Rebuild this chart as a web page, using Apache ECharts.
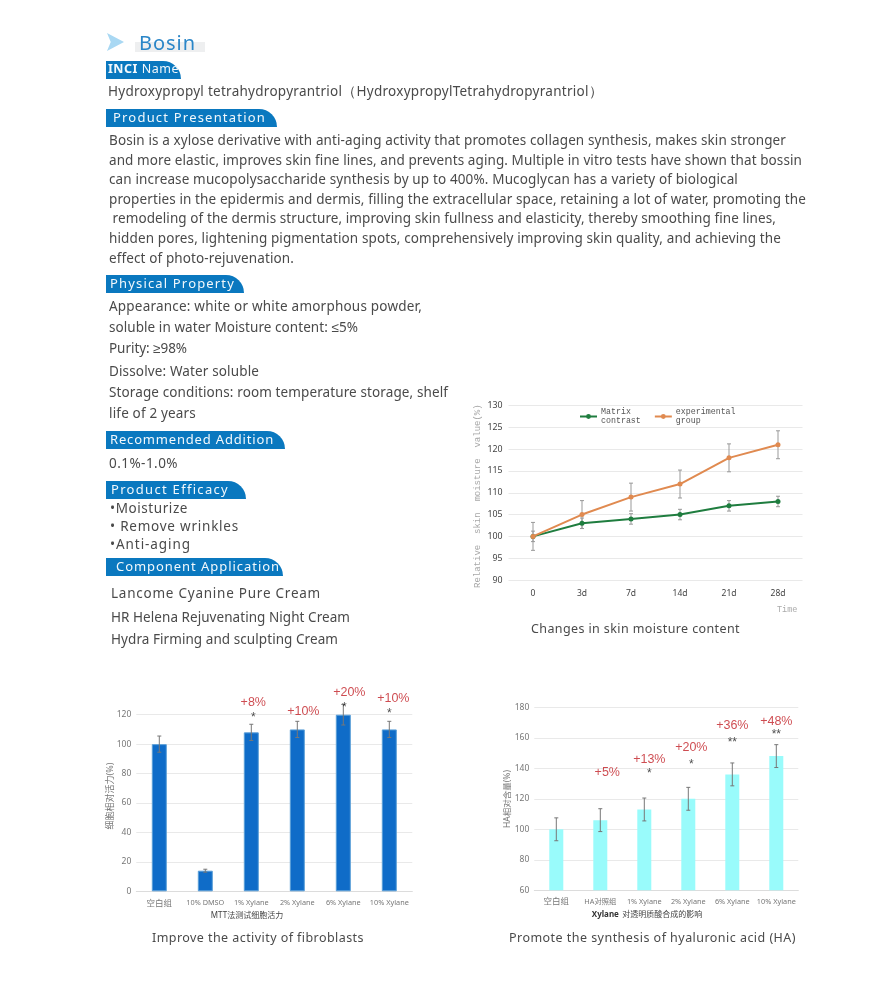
<!DOCTYPE html>
<html><head><meta charset="utf-8">
<style>
html,body{margin:0;padding:0;background:#fff;width:885px;height:989px;overflow:hidden}
#chart{position:absolute;left:0;top:0;width:885px;height:989px}
.t{position:absolute;white-space:pre;font-family:"Noto Sans",sans-serif;color:#4a4a4a;line-height:1;transform:translateY(-50%)}
.ban{position:absolute;background:#0a78bf;height:18px;left:106px;border-top-right-radius:18px 18px;border-top-left-radius:0}
.bt{color:#f2f8fc;font-size:13px}
#arrow{position:absolute;left:107px;top:33px;width:17px;height:18px;background:#a9d8f3;clip-path:polygon(0 0,100% 50%,0 100%,22% 50%)}
#bosbg{position:absolute;left:135px;top:42px;width:70px;height:10px;background:#eeeff0}
</style>
<script src="https://cdn.jsdelivr.net/npm/echarts@6/dist/echarts.min.js"></script>
</head><body>
<div id="chart"></div>
<div id="arrow"></div><div id="bosbg"></div>
<div id="page"></div>
<script>
// ---- moisture chart ----
const timeLabels = ['0','3d','7d','14d','21d','28d'];
const matrixValues = [100,103,104,105,107,108];
const matrixErr = [1.2,1.2,1.2,1.2,1.2,1.2];
const experimentalValues = [100,105,109,112,118,121];
const experimentalErr = [3.2,3.2,3.2,3.2,3.2,3.2];
// ---- fibroblast chart ----
const mttLabels = ['空白组','10% DMSO','1% Xylane','2% Xylane','6% Xylane','10% Xylane'];
const mttValues = [100,14,108,110,120,110];
const mttErr = [5.5,1,5.5,5.5,7,5.5];
const mttPct = ['','','+8%','+10%','+20%','+10%'];
const mttPctY = [null,null,128,122,135,131];
const mttStar = ['','','*','','*','*'];
const mttStarY = [null,null,118,null,124.5,121];
// ---- hyaluronic acid chart ----
const haLabels = ['空白组','HA对照组','1% Xylane','2% Xylane','6% Xylane','10% Xylane'];
const haValues = [100,106,113,120,136,148];
const haErr = [7.5,7.5,7.5,7.5,7.5,7.5];
const haPct = ['','+5%','+13%','+20%','+36%','+48%'];
const haPctY = [null,137,146,153.8,168,170.5];
const haStar = ['','','*','*','**','**'];
const haStarY = [null,null,136.5,142.5,156.5,162];

const SERIF='"Liberation Mono",monospace', SANS='"Noto Sans","Noto Sans CJK SC",sans-serif', ARIAL='"Liberation Sans",sans-serif';

function errSeries(name,vals,errs,xI,color,z,cap){
  return {type:'custom',name:name,xAxisIndex:xI,yAxisIndex:xI,z:z,clip:false,silent:true,legendHoverLink:false,
    data:vals.map((v,i)=>[i,v-errs[i],v+errs[i]]),
    encode:{x:0,y:[1,2]},
    renderItem:(p,api)=>{
      const a=api.coord([api.value(0),api.value(1)]),b=api.coord([api.value(0),api.value(2)]);
      const st={stroke:color,lineWidth:1,fill:null};
      return {type:'group',children:[
        {type:'line',shape:{x1:a[0],y1:a[1],x2:b[0],y2:b[1]},style:st},
        {type:'line',shape:{x1:a[0]-cap,y1:a[1],x2:a[0]+cap,y2:a[1]},style:st},
        {type:'line',shape:{x1:b[0]-cap,y1:b[1],x2:b[0]+cap,y2:b[1]},style:st}]};
    }};
}
function noteSeries(xI,ys,texts,offs,dy,font,size,color){
  return {type:'scatter',xAxisIndex:xI,yAxisIndex:xI,symbolSize:0,z:10,clip:false,silent:true,
    data:ys.map((y,i)=>y==null?null:{value:[i,y],label:{formatter:texts[i],offset:[offs[i],dy]}}).filter(d=>d),
    label:{show:true,position:'inside',fontFamily:font,fontSize:size,color:color}};
}
function catAxis(grid,data,size,color,margin){
  return {type:'category',gridIndex:grid,data:data,boundaryGap:true,
    axisTick:{show:false},axisLine:{show:true,lineStyle:{color:'#dcdcdc'}},
    axisLabel:{interval:0,fontFamily:SANS,fontSize:size,color:color,margin:margin,
      formatter:v=>/^[\u4e00-\u9fff]+$/.test(v)?'{c|'+v+'}':v,rich:{c:{fontSize:8.5,fontFamily:SANS,color:color}}}};
}
function valAxis(grid,min,max,step,color,size,margin){
  return {type:'value',gridIndex:grid,min:min,max:max,interval:step,
    axisLine:{show:false},axisTick:{show:false},
    splitLine:{lineStyle:{color:'#e9e9e9'}},
    axisLabel:{fontFamily:SANS,fontSize:size,color:color,margin:margin}};
}
const chart=echarts.init(document.getElementById('chart'),null,{renderer:'canvas'});
chart.setOption({
  animation:false,
  backgroundColor:'transparent',
  grid:[
    {left:508.5,top:405.5,width:294,height:174.5},
    {left:136.3,top:714.7,width:276,height:176.6},
    {left:534.3,top:707.3,width:264,height:183}
  ],
  legend:{left:574,top:402,itemWidth:17,itemHeight:6,itemGap:13,data:['Matrix\ncontrast','experimental\ngroup'],
    textStyle:{fontFamily:SERIF,fontSize:8.3,lineHeight:9.5,color:'#555',padding:[0,0,0,-1]}},
  xAxis:[
    Object.assign(catAxis(0,timeLabels,8.5,'#444',9),{axisLine:{show:false}}),
    catAxis(1,mttLabels,7.3,'#777',8),
    catAxis(2,haLabels,7.3,'#777',7.5)
  ],
  yAxis:[valAxis(0,90,130,5,'#444',8.8,6),valAxis(1,0,120,20,'#777',8.5,5),valAxis(2,60,180,20,'#777',8.5,5)],
  series:[
    {type:'line',name:'Matrix\ncontrast',data:matrixValues,xAxisIndex:0,yAxisIndex:0,z:4,symbol:'circle',symbolSize:5,
      lineStyle:{color:'#1f7d3f',width:2},itemStyle:{color:'#1f7d3f'}},
    {type:'line',name:'experimental\ngroup',data:experimentalValues,xAxisIndex:0,yAxisIndex:0,z:5,symbol:'circle',symbolSize:5,
      lineStyle:{color:'#e08a50',width:2},itemStyle:{color:'#e08a50'}},
    errSeries('e1',matrixValues,matrixErr,0,'#999',3,2),
    errSeries('e2',experimentalValues,experimentalErr,0,'#999',3,2),
    {type:'bar',data:mttValues,xAxisIndex:1,yAxisIndex:1,barWidth:15,z:2,
      itemStyle:{color:'#0f6cc8',borderColor:'#5a9fd8',borderWidth:1}},
    errSeries('e3',mttValues,mttErr,1,'#777',3,2),
    noteSeries(1,mttPctY,mttPct,[0,0,2,6,6,4],0,ARIAL,12.5,'#c21f26'),
    noteSeries(1,mttStarY,mttStar,[0,0,2,0,1,0],0,ARIAL,12,'#222'),
    {type:'bar',data:haValues,xAxisIndex:2,yAxisIndex:2,barWidth:14,z:2,itemStyle:{color:'#99fbfb'}},
    errSeries('e4',haValues,haErr,2,'#777',3,2),
    noteSeries(2,haPctY,haPct,[0,7,5,3,0,0],0,ARIAL,12.5,'#c21f26'),
    noteSeries(2,haStarY,haStar,[0,0,5,3,0,0],0,ARIAL,12,'#222')
  ],
  graphic:[
    {type:'text',x:473,y:588,rotation:Math.PI/2,silent:true,style:{text:'Relative  skin  moisture  value(%)',font:'9px '+SERIF,fill:'#a8a8a8'}},
    {type:'text',x:777,y:605,silent:true,style:{text:'Time',font:'8.5px '+SERIF,fill:'#aaa'}},
    {type:'text',x:110,y:796,rotation:Math.PI/2,silent:true,style:{text:'细胞相对活力(%)',font:'9px '+SANS,fill:'#777',align:'center',verticalAlign:'middle'}},
    {type:'text',x:247,y:916,silent:true,style:{text:'MTT法测试细胞活力',font:'8px '+SANS,fill:'#444',align:'center',verticalAlign:'middle'}},
    {type:'text',x:508,y:799,rotation:Math.PI/2,silent:true,style:{text:'HA相对含量(%)',font:'8.5px '+SANS,fill:'#777',align:'center',verticalAlign:'middle'}},
    {type:'text',x:647,y:915,silent:true,style:{rich:{b:{font:'bold 8px '+SANS,fill:'#333'},n:{font:'8px '+SANS,fill:'#444'}},text:'{b|Xylane} {n|对透明质酸合成的影响}',align:'center',verticalAlign:'middle'}}
  ]
});

// page prose: [text, x, centerY, targetWidth, fontSize, colour]
const pageLines=[
 ['Bosin',139,43,57,20,'#2a86c8'],
 ['Hydroxypropyl tetrahydropyrantriol（HydroxypropylTetrahydropyrantriol）',108,92,495,13.5],
 ['Bosin is a xylose derivative with anti-aging activity that promotes collagen synthesis, makes skin stronger',109,141,677,13.5],
 ['and more elastic, improves skin fine lines, and prevents aging. Multiple in vitro tests have shown that bossin',109,161,693,13.5],
 ['can increase mucopolysaccharide synthesis by up to 400%. Mucoglycan has a variety of biological',109,180,629,13.5],
 ['properties in the epidermis and dermis, filling the extracellular space, retaining a lot of water, promoting the',109,200,697,13.5],
 [' remodeling of the dermis structure, improving skin fullness and elasticity, thereby smoothing fine lines,',109,219,667,13.5],
 ['hidden pores, lightening pigmentation spots, comprehensively improving skin quality, and achieving the',109,239,672,13.5],
 ['effect of photo-rejuvenation.',109,259,185,13.5],
 ['Appearance: white or white amorphous powder,',109,307,313,13.5],
 ['soluble in water Moisture content: ≤5%',109,328,249,13.5],
 ['Purity: ≥98%',109,349,78,13.5],
 ['Dissolve: Water soluble',109,372,150,13.5],
 ['Storage conditions: room temperature storage, shelf',109,393,339,13.5],
 ['life of 2 years',109,414,87,13.5],
 ['0.1%-1.0%',109,464,69,13.5],
 ['•Moisturize',110,509,78,13.5],
 ['• Remove wrinkles',110,527,129,13.5],
 ['•Anti-aging',110,545,81,13.5],
 ['Lancome Cyanine Pure Cream',111,594,210,13.5],
 ['HR Helena Rejuvenating Night Cream',111,618,239,13.5],
 ['Hydra Firming and sculpting Cream',111,640,227,13.5],
 ['Changes in skin moisture content',531,629,209,12.5],
 ['Improve the activity of fibroblasts',152,938,212,12.5],
 ['Promote the synthesis of hyaluronic acid (HA)',509,938,287,12.5]
];
// banners: [label, right edge, top, text x, text width]
const banners=[
 ['INCI Name',181,61,108,71],
 ['Product Presentation',277,109,113,153],
 ['Physical Property',244,275,110,125],
 ['Recommended Addition',285,431,110,164],
 ['Product Efficacy',246,481,111,118],
 ['Component Application',283,558,116,164]
];
const page=document.getElementById('page');
function fit(el,w){const n=el.textContent.length;el.style.letterSpacing='0px';const r=el.getBoundingClientRect().width;el.style.letterSpacing=((w-r)/n)+'px';}
pageLines.forEach(l=>{const d=document.createElement('div');d.className='t';d.textContent=l[0];
  d.style.left=l[1]+'px';d.style.top=l[2]+'px';d.style.fontSize=l[4]+'px';if(l[5])d.style.color=l[5];page.appendChild(d);fit(d,l[3]);});
banners.forEach(b=>{const r=document.createElement('div');r.className='ban';r.style.top=b[2]+'px';r.style.width=(b[1]-106)+'px';page.appendChild(r);
  const d=document.createElement('div');d.className='t bt';d.style.color='#f2f8fc';d.style.left=b[3]+'px';d.style.top=(b[2]+8)+'px';
  if(b[0].startsWith('INCI')){d.innerHTML='<b>INCI</b> Name';d.style.fontSize='12.5px';}else d.textContent=b[0];
  page.appendChild(d);fit(d,b[4]);});
</script>
</body></html>
